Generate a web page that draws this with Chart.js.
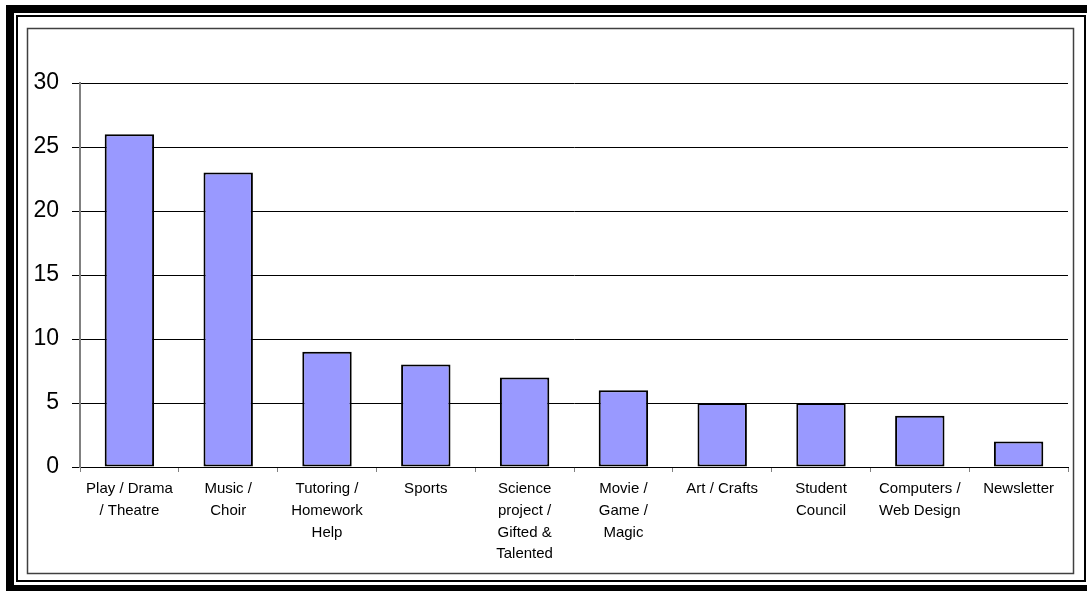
<!DOCTYPE html>
<html>
<head>
<meta charset="utf-8">
<script src="https://cdn.jsdelivr.net/npm/chart.js@4/dist/chart.umd.min.js"></script>
<style>
  html, body { margin: 0; padding: 0; background: #fff; }
  #wrap { width: 1087px; height: 591px; }
</style>
</head>
<body>
<div id="wrap"><canvas id="c" width="1087" height="591"></canvas></div>
<script>
const categories = [
  ["Play / Drama", "/ Theatre"],
  ["Music /", "Choir"],
  ["Tutoring /", "Homework", "Help"],
  ["Sports"],
  ["Science", "project /", "Gifted &", "Talented"],
  ["Movie /", "Game /", "Magic"],
  ["Art / Crafts"],
  ["Student", "Council"],
  ["Computers /", "Web Design"],
  ["Newsletter"]
];
const counts = [26, 23, 9, 8, 7, 6, 5, 5, 4, 2];
const yTicks = [0, 5, 10, 15, 20, 25, 30];

const framePlugin = {
  id: 'frames',
  beforeDraw(chart) {
    const ctx = chart.ctx;
    ctx.save();
    ctx.fillStyle = '#fff';
    ctx.fillRect(0, 0, chart.width, chart.height);
    ctx.fillStyle = '#000';
    ctx.fillRect(6, 5, 1081, 8);
    ctx.fillRect(6, 5, 8, 586);
    ctx.fillRect(6, 585, 1081, 6);
    ctx.strokeStyle = '#000';
    ctx.lineWidth = 2;
    ctx.strokeRect(17, 16, 1068, 565);
    ctx.strokeStyle = '#404040';
    ctx.lineWidth = 1.5;
    ctx.strokeRect(27.5, 28.5, 1046, 545);
    ctx.restore();
  }
};

new Chart(document.getElementById('c'), {
  type: 'bar',
  data: {
    labels: categories,
    datasets: [{
      data: counts,
      backgroundColor: '#9999FF',
      borderColor: '#000',
      borderWidth: 2,
      borderSkipped: false,
      barPercentage: 0.5,
      categoryPercentage: 1.0
    }]
  },
  options: {
    responsive: false,
    animation: false,
    devicePixelRatio: 1,
    layout: { padding: { left: 0, right: 19, top: 83, bottom: 0 } },
    plugins: { legend: { display: false }, tooltip: { enabled: false } },
    scales: {
      x: {
        offset: true,
        grid: { display: true, drawOnChartArea: false, drawTicks: true, tickLength: 5, tickColor: '#808080', offset: true },
        border: { display: true, color: '#000', width: 1 },
        ticks: {
          autoSkip: false, maxRotation: 0, minRotation: 0,
          color: '#000', padding: 6,
          font: { family: 'Liberation Sans, Arial, sans-serif', size: 15, lineHeight: 1.45 }
        },
        afterFit(scale) { scale.height = 124; }
      },
      y: {
        min: 0, max: 30,
        afterBuildTicks(scale) { scale.ticks = yTicks.map(v => ({ value: v })); },
        grid: { color: '#000', lineWidth: 1, tickLength: 8, tickColor: '#000', drawTicks: true },
        border: { display: true, color: '#808080', width: 2 },
        ticks: {
          color: '#000', padding: 13,
          font: { family: 'Liberation Sans, Arial, sans-serif', size: 23 }
        },
        afterFit(scale) { scale.width = 80; }
      }
    }
  },
  plugins: [framePlugin]
});
</script>
</body>
</html>
